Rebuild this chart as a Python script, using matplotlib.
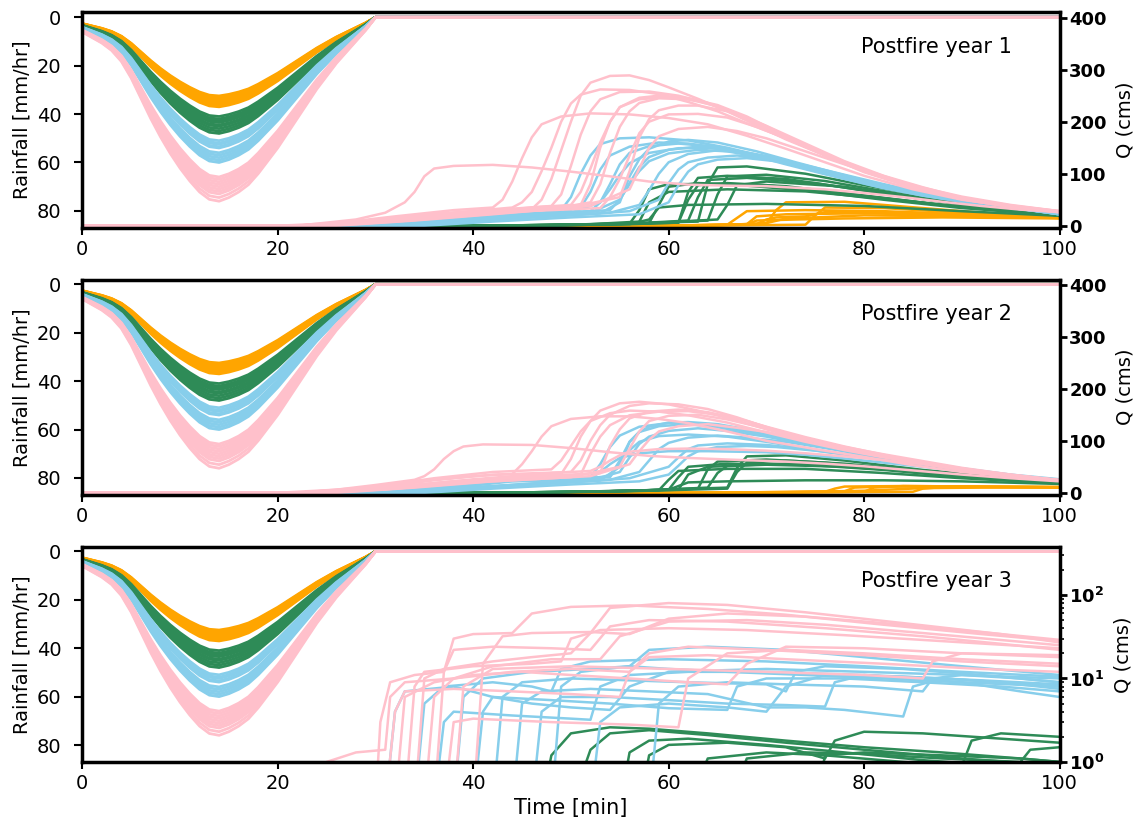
import matplotlib
matplotlib.use('Agg')
import matplotlib.pyplot as plt
import numpy as np

# scenario colours, drawn in this order (pink on top)
colors = ['orange', 'seagreen', 'skyblue', 'pink']
years = ['Postfire year 1', 'Postfire year 2', 'Postfire year 3']

# design storm: normalised hyetograph (1-min steps) and peak intensity of each run
rain_t = list(range(31)) + [100]
rain_shape = [0.08, 0.11, 0.14, 0.18, 0.24, 0.33, 0.44, 0.55, 0.65, 0.74,
              0.82, 0.89, 0.95, 0.99, 1.0, 0.98, 0.95, 0.91, 0.85, 0.78,
              0.71, 0.63, 0.55, 0.47, 0.39, 0.32, 0.25, 0.19, 0.13, 0.07,
              0.0, 0.0]
peaks_orange = [32.5, 33, 33.5, 34, 34.5, 35, 35.5, 36, 36.5, 37]
peaks_green = [41, 42, 42.5, 43, 43.5, 44.5, 45, 46, 47, 48]
peaks_blue = [51, 52, 52.5, 53.5, 54, 56, 57, 58, 59, 60]
peaks_pink = [66, 67, 68, 69, 70, 71, 72, 73, 74.5, 76]

# ---- hydrographs, year 1 (t [min], Q [cms])
q1_pink = [
    [(0, 0), (20, 0), (26, 5), (32, 18), (38, 30), (42, 35), (43, 50), (44, 85), (45, 130), (46, 170), (47, 195), (49, 210), (52, 216), (56, 214), (60, 207), (64, 195), (68, 173), (72, 148), (76, 122), (80, 96), (85, 70), (90, 50), (95, 37), (100, 27)],
    [(0, 0), (22, 0), (28, 8), (34, 20), (40, 28), (46, 32), (47, 50), (48, 90), (49, 145), (50, 200), (51, 250), (52, 275), (54, 288), (56, 289), (58, 280), (60, 266), (63, 244), (66, 220), (69, 193), (72, 166), (76, 135), (80, 106), (85, 76), (90, 53), (95, 38), (100, 28)],
    [(0, 0), (22, 0), (30, 10), (36, 22), (42, 30), (48, 38), (49, 60), (50, 115), (51, 175), (52, 220), (53, 243), (55, 257), (58, 258), (61, 250), (64, 236), (68, 206), (72, 172), (76, 138), (80, 106), (85, 76), (90, 52), (95, 37), (100, 27)],
    [(0, 0), (24, 0), (30, 8), (36, 18), (44, 28), (51, 40), (52, 80), (53, 150), (54, 200), (55, 228), (57, 246), (59, 250), (62, 245), (65, 232), (68, 210), (71, 182), (74, 153), (77, 127), (80, 104), (85, 74), (90, 51), (95, 36), (100, 26)],
    [(0, 0), (24, 0), (32, 10), (40, 22), (48, 32), (52, 45), (53, 80), (54, 140), (55, 190), (56, 220), (57, 236), (59, 245), (62, 243), (65, 230), (68, 207), (72, 172), (76, 138), (80, 106), (85, 75), (90, 52), (95, 37), (100, 27)],
    [(0, 0), (25, 0), (32, 8), (40, 20), (50, 35), (55, 55), (56, 105), (57, 170), (58, 205), (59, 222), (61, 231), (63, 231), (66, 220), (69, 197), (72, 171), (76, 138), (80, 108), (85, 77), (90, 54), (95, 39), (100, 28)],
    [(0, 0), (26, 0), (34, 10), (42, 22), (52, 38), (56, 70), (57, 110), (58, 150), (59, 172), (61, 186), (64, 190), (67, 182), (70, 168), (74, 143), (78, 118), (82, 94), (86, 73), (90, 56), (95, 40), (100, 28)],
    [(0, 0), (22, 0), (28, 12), (31, 25), (33, 45), (34, 65), (35, 95), (36, 110), (38, 115), (42, 117), (46, 112), (50, 104), (54, 95), (58, 85), (62, 79), (66, 77), (70, 76), (76, 70), (80, 63), (84, 55), (88, 46), (92, 38), (96, 31), (100, 26)],
    [(0, 0), (22, 0), (30, 10), (38, 25), (44, 35), (45, 45), (46, 65), (47, 105), (48, 150), (49, 200), (50, 235), (51, 252), (53, 262), (56, 261), (59, 253), (62, 238), (65, 220), (68, 197), (72, 168), (76, 135), (80, 103), (85, 73), (90, 51), (95, 36), (100, 26)],
    [(0, 0), (22, 0), (30, 9), (38, 22), (46, 35), (50, 40), (51, 65), (52, 110), (53, 160), (54, 200), (55, 228), (57, 243), (60, 248), (63, 240), (66, 223), (70, 192), (74, 158), (78, 124), (82, 96), (86, 74), (90, 54), (95, 38), (100, 27)],
    [(0, 0), (24, 0), (32, 10), (40, 24), (48, 30), (53, 34), (54, 55), (55, 90), (56, 135), (57, 178), (58, 200), (60, 214), (63, 215), (66, 208), (69, 190), (72, 168), (76, 137), (80, 107), (85, 76), (90, 52), (95, 37), (100, 27)],
]
q1_blue = [
    [(0, 0), (28, 0), (34, 6), (40, 18), (46, 22), (49, 30), (50, 55), (51, 100), (52, 135), (53, 157), (55, 168), (58, 170), (62, 164), (66, 150), (70, 132), (74, 110), (78, 90), (82, 72), (86, 58), (90, 46), (95, 34), (100, 24)],
    [(0, 0), (30, 0), (36, 8), (42, 18), (48, 22), (51, 35), (52, 65), (53, 108), (54, 135), (56, 152), (59, 160), (62, 158), (66, 148), (70, 130), (74, 110), (78, 91), (83, 70), (88, 53), (94, 37), (100, 23)],
    [(0, 0), (30, 0), (38, 10), (44, 20), (50, 25), (53, 45), (54, 80), (55, 118), (56, 140), (58, 153), (61, 158), (64, 153), (68, 138), (72, 118), (76, 99), (81, 77), (86, 58), (92, 41), (100, 23)],
    [(0, 0), (32, 0), (38, 8), (46, 18), (52, 25), (55, 50), (56, 82), (57, 113), (58, 132), (60, 146), (63, 152), (66, 147), (70, 132), (74, 112), (78, 93), (83, 71), (88, 53), (94, 37), (100, 22)],
    [(0, 0), (31, 0), (38, 12), (44, 24), (50, 26), (54, 30), (55, 50), (56, 80), (57, 105), (58, 124), (60, 139), (63, 146), (66, 143), (70, 130), (74, 112), (78, 94), (82, 77), (86, 60), (92, 42), (100, 23)],
    [(0, 0), (33, 0), (40, 10), (48, 18), (54, 25), (57, 40), (58, 68), (59, 100), (60, 122), (62, 138), (65, 145), (68, 140), (72, 124), (76, 104), (80, 86), (84, 69), (88, 55), (94, 38), (100, 22)],
    [(0, 0), (34, 0), (42, 12), (50, 20), (56, 28), (59, 50), (60, 82), (61, 108), (62, 122), (64, 131), (67, 135), (70, 130), (74, 116), (78, 98), (82, 80), (86, 64), (90, 50), (95, 36), (100, 22)],
    [(0, 0), (30, 0), (36, 10), (42, 22), (48, 24), (52, 28), (53, 45), (54, 70), (55, 98), (56, 120), (58, 140), (61, 149), (64, 150), (67, 144), (70, 134), (74, 114), (78, 94), (83, 72), (88, 54), (94, 38), (100, 23)],
    [(0, 0), (35, 0), (42, 8), (50, 16), (57, 22), (60, 45), (61, 78), (62, 104), (63, 118), (65, 127), (68, 130), (71, 124), (75, 108), (79, 90), (83, 72), (88, 55), (94, 38), (100, 22)],
    [(0, 0), (32, 0), (40, 10), (48, 20), (53, 24), (55, 45), (56, 95), (57, 128), (58, 148), (60, 162), (62, 165), (65, 160), (69, 143), (73, 122), (77, 102), (81, 82), (86, 63), (90, 49), (95, 35), (100, 23)],
]
q1_green = [
    [(0, 0), (40, 0), (50, 2), (56, 4), (57, 30), (58, 70), (60, 80), (66, 80), (74, 68), (82, 50), (90, 34), (100, 20)],
    [(0, 0), (42, 0), (52, 3), (58, 5), (59, 40), (60, 75), (63, 82), (70, 78), (78, 62), (88, 40), (100, 20)],
    [(0, 0), (42, 0), (54, 3), (61, 6), (62, 50), (63, 78), (66, 82), (72, 76), (80, 58), (90, 36), (100, 20)],
    [(0, 0), (44, 0), (55, 4), (63, 8), (64, 80), (65, 112), (68, 114), (74, 100), (80, 78), (90, 44), (100, 21)],
    [(0, 0), (44, 0), (56, 3), (58, 12), (59, 35), (62, 40), (70, 42), (80, 38), (90, 28), (100, 19)],
    [(0, 0), (45, 0), (56, 4), (62, 10), (63, 55), (64, 88), (68, 92), (75, 82), (84, 56), (92, 38), (100, 20)],
    [(0, 0), (46, 0), (58, 5), (64, 10), (65, 60), (66, 95), (70, 98), (76, 86), (84, 60), (92, 38), (100, 20)],
    [(0, 0), (42, 0), (52, 3), (57, 8), (58, 45), (60, 65), (66, 70), (74, 66), (82, 52), (90, 36), (100, 20)],
    [(0, 0), (48, 0), (58, 5), (65, 12), (66, 40), (67, 78), (70, 85), (78, 75), (86, 52), (94, 32), (100, 21)],
    [(0, 0), (44, 0), (56, 3), (61, 6), (62, 65), (63, 92), (66, 96), (72, 90), (80, 68), (90, 40), (100, 20)],
]
q1_orange = [
    [(0, 0), (58, 0), (66, 2), (67, 15), (68, 28), (74, 30), (82, 28), (90, 22), (100, 16)],
    [(0, 0), (60, 0), (68, 3), (69, 18), (72, 22), (80, 24), (90, 20), (100, 15)],
    [(0, 0), (62, 0), (70, 4), (71, 30), (72, 45), (78, 46), (86, 34), (94, 22), (100, 17)],
    [(0, 0), (62, 0), (74, 2), (75, 20), (76, 35), (82, 34), (90, 25), (100, 17)],
    [(0, 0), (60, 0), (69, 3), (70, 12), (71, 16), (74, 18), (76, 26), (84, 26), (92, 20), (100, 15)],
    [(0, 0), (64, 0), (70, 5), (72, 14), (75, 16), (80, 20), (90, 18), (100, 15)],
    [(0, 0), (60, 0), (68, 2), (69, 10), (73, 12), (78, 14), (88, 16), (100, 14)],
]

# ---- hydrographs, year 2
q2_pink = [
    [(0, 0), (20, 0), (26, 6), (30, 15), (34, 25), (35, 32), (36, 45), (37, 65), (38, 80), (39, 89), (41, 93), (46, 92), (50, 86), (54, 78), (58, 71), (62, 67), (66, 64), (72, 60), (76, 56), (80, 51), (85, 43), (90, 35), (95, 28), (100, 22)],
    [(0, 0), (22, 0), (28, 8), (34, 22), (40, 32), (44, 36), (45, 55), (46, 80), (47, 108), (48, 128), (50, 142), (53, 147), (56, 147), (59, 142), (62, 134), (66, 118), (70, 100), (75, 84), (80, 69), (85, 53), (90, 40), (95, 31), (100, 24)],
    [(0, 0), (22, 0), (30, 10), (36, 24), (42, 35), (50, 40), (51, 62), (52, 100), (53, 130), (54, 150), (56, 167), (58, 172), (61, 170), (64, 161), (67, 145), (70, 126), (74, 104), (78, 86), (82, 71), (86, 57), (90, 44), (95, 33), (100, 24)],
    [(0, 0), (24, 0), (30, 8), (38, 22), (46, 30), (51, 35), (52, 75), (53, 108), (54, 130), (56, 149), (59, 156), (62, 157), (65, 150), (68, 138), (72, 115), (76, 96), (80, 78), (84, 63), (88, 50), (92, 39), (96, 30), (100, 23)],
    [(0, 0), (24, 0), (32, 10), (40, 24), (48, 33), (53, 38), (54, 90), (55, 122), (56, 143), (58, 156), (61, 160), (64, 155), (67, 143), (70, 127), (74, 107), (78, 89), (82, 73), (86, 58), (90, 45), (95, 33), (100, 23)],
    [(0, 0), (25, 0), (32, 8), (40, 20), (50, 30), (55, 50), (56, 85), (57, 118), (58, 138), (60, 148), (63, 150), (66, 141), (69, 128), (72, 114), (76, 96), (80, 79), (84, 63), (88, 50), (92, 39), (96, 30), (100, 24)],
    [(0, 0), (26, 0), (34, 10), (42, 22), (52, 32), (56, 55), (57, 80), (58, 102), (59, 118), (61, 128), (64, 132), (67, 125), (70, 117), (74, 102), (78, 88), (82, 74), (86, 61), (90, 48), (95, 35), (100, 24)],
    [(0, 0), (22, 0), (30, 12), (36, 28), (42, 40), (48, 45), (49, 62), (50, 90), (51, 118), (52, 138), (54, 153), (56, 158), (59, 156), (62, 149), (66, 135), (70, 116), (74, 98), (78, 82), (82, 68), (87, 53), (92, 39), (96, 30), (100, 23)],
    [(0, 0), (24, 0), (32, 10), (40, 26), (48, 38), (52, 42), (53, 50), (54, 62), (55, 72), (56, 79), (59, 84), (62, 85), (66, 84), (70, 81), (74, 76), (78, 70), (82, 63), (86, 55), (90, 46), (95, 35), (100, 24)],
    [(0, 0), (23, 0), (30, 9), (38, 22), (46, 32), (49, 36), (50, 65), (51, 108), (52, 138), (53, 158), (55, 172), (57, 175), (60, 170), (63, 158), (66, 144), (70, 122), (74, 102), (78, 85), (82, 70), (86, 56), (90, 44), (95, 34), (100, 25)],
]
q2_blue = [
    [(0, 0), (30, 0), (36, 8), (42, 22), (48, 26), (52, 30), (53, 55), (54, 88), (55, 110), (57, 127), (60, 134), (63, 133), (66, 127), (70, 113), (74, 97), (78, 82), (82, 68), (86, 55), (90, 43), (95, 33), (100, 25)],
    [(0, 0), (30, 0), (38, 10), (44, 22), (50, 25), (54, 32), (55, 62), (56, 98), (57, 117), (59, 128), (62, 132), (65, 126), (68, 117), (72, 102), (76, 88), (80, 73), (85, 57), (90, 44), (95, 33), (100, 24)],
    [(0, 0), (32, 0), (38, 8), (46, 18), (52, 24), (55, 40), (56, 68), (57, 94), (58, 108), (60, 119), (63, 124), (66, 119), (70, 108), (74, 94), (78, 80), (83, 64), (88, 49), (94, 35), (100, 24)],
    [(0, 0), (31, 0), (38, 12), (44, 24), (50, 27), (54, 30), (55, 58), (56, 82), (57, 98), (59, 109), (62, 112), (66, 108), (70, 98), (74, 86), (78, 74), (84, 57), (90, 43), (95, 32), (100, 24)],
    [(0, 0), (33, 0), (40, 10), (48, 18), (54, 25), (57, 40), (58, 62), (59, 84), (60, 96), (62, 106), (65, 110), (68, 106), (72, 98), (76, 86), (80, 74), (85, 58), (90, 45), (95, 33), (100, 23)],
    [(0, 0), (34, 0), (42, 12), (50, 20), (56, 28), (60, 50), (61, 68), (62, 84), (63, 91), (66, 95), (70, 92), (74, 84), (78, 74), (83, 60), (88, 47), (94, 34), (100, 24)],
    [(0, 0), (30, 0), (36, 10), (42, 22), (48, 24), (52, 28), (53, 40), (54, 55), (55, 67), (57, 76), (60, 80), (64, 80), (70, 78), (74, 73), (78, 66), (83, 56), (88, 46), (94, 34), (100, 24)],
    [(0, 0), (32, 0), (40, 10), (48, 20), (53, 24), (55, 50), (56, 98), (57, 117), (58, 127), (60, 135), (62, 136), (65, 132), (68, 122), (72, 107), (76, 92), (80, 78), (85, 61), (90, 47), (95, 35), (100, 26)],
    [(0, 0), (35, 0), (42, 8), (50, 16), (57, 22), (60, 35), (61, 52), (62, 70), (63, 80), (65, 88), (68, 90), (71, 88), (75, 81), (79, 72), (84, 59), (89, 46), (94, 35), (100, 24)],
]
q2_green = [
    [(0, 0), (40, 0), (52, 2), (59, 5), (60, 25), (61, 42), (66, 46), (74, 46), (82, 38), (90, 28), (100, 18)],
    [(0, 0), (42, 0), (54, 3), (60, 6), (61, 30), (62, 50), (66, 56), (74, 54), (82, 44), (90, 30), (100, 18)],
    [(0, 0), (44, 0), (56, 4), (63, 8), (64, 45), (65, 60), (70, 64), (76, 58), (84, 44), (92, 30), (100, 19)],
    [(0, 0), (44, 0), (56, 3), (66, 8), (67, 40), (68, 58), (72, 62), (78, 56), (86, 42), (94, 28), (100, 19)],
    [(0, 0), (42, 0), (54, 3), (60, 6), (62, 20), (66, 22), (74, 24), (82, 24), (90, 22), (100, 17)],
    [(0, 0), (45, 0), (57, 4), (64, 10), (65, 38), (66, 52), (72, 56), (80, 50), (88, 38), (100, 19)],
    [(0, 0), (46, 0), (58, 5), (66, 10), (67, 48), (68, 70), (72, 72), (78, 62), (86, 44), (94, 30), (100, 19)],
    [(0, 0), (42, 0), (54, 3), (61, 6), (62, 35), (64, 50), (70, 54), (78, 50), (86, 40), (94, 28), (100, 18)],
]
q2_orange = [
    [(0, 0), (62, 0), (76, 2), (77, 8), (78, 12), (84, 13), (92, 12), (100, 11)],
    [(0, 0), (64, 0), (78, 3), (79, 10), (82, 12), (90, 12), (100, 11)],
    [(0, 0), (66, 0), (85, 2), (86, 8), (88, 11), (94, 11), (100, 10)],
    [(0, 0), (62, 0), (72, 1), (80, 4), (86, 9), (92, 10), (100, 10)],
    [(0, 0), (66, 0), (80, 2), (81, 10), (84, 13), (92, 12), (100, 11)],
]

# ---- hydrographs, year 3 (log axis, values below 1 fall off the plot)
q3_pink = [
    [(0, 0.3), (23, 0.3), (25, 1.0), (28, 1.3), (31, 1.4), (31.5, 6), (33, 9), (38, 10), (44, 12), (50, 13), (56, 12), (58, 20), (62, 24), (70, 22), (80, 19), (90, 16), (100, 14)],
    [(0, 0.3), (30, 0.3), (30.5, 3), (31.5, 9), (34, 11), (37, 12), (38, 22), (42, 24), (48, 23), (52, 22), (54, 42), (58, 50), (66, 48), (76, 40), (86, 32), (94, 26), (100, 22)],
    [(0, 0.3), (31, 0.3), (32, 4), (33, 7), (38, 7.5), (44, 7), (50, 6.5), (55, 6), (56, 12), (58, 18), (64, 19), (72, 17), (82, 15), (92, 13), (100, 12)],
    [(0, 0.3), (33, 0.3), (34, 8), (35, 12), (40, 14), (46, 15), (49, 16), (50, 30), (53, 38), (60, 40), (68, 38), (78, 33), (88, 28), (100, 23)],
    [(0, 0.3), (36, 0.3), (37, 12), (38, 30), (40, 34), (44, 35), (46, 60), (50, 72), (56, 75), (64, 68), (72, 58), (82, 44), (92, 34), (100, 28)],
    [(0, 0.3), (34, 0.3), (35, 10), (37, 13), (42, 16), (46, 18), (50, 20), (52, 35), (54, 70), (60, 80), (66, 76), (74, 62), (84, 46), (94, 34), (100, 27)],
    [(0, 0.3), (37, 0.3), (38, 3), (40, 3.3), (48, 3), (56, 2.8), (61, 2.6), (62, 10), (66, 20), (72, 22), (80, 20), (90, 17), (100, 15)],
    [(0, 0.3), (35, 0.3), (36, 6), (38, 10), (42, 14), (48, 17), (53, 17), (55, 32), (60, 48), (68, 50), (76, 44), (86, 35), (100, 25)],
    [(0, 0.3), (32, 0.3), (33, 6), (36, 9), (40, 11), (45, 12), (50, 11), (56, 10), (62, 9), (66, 8.5), (68, 15), (72, 24), (80, 23), (90, 20), (100, 18)],
    [(0, 0.3), (40, 0.3), (41, 15), (43, 32), (46, 35), (52, 36), (56, 34), (60, 52), (66, 60), (74, 55), (84, 44), (94, 34), (100, 29)],
    [(0, 0.3), (38, 0.3), (39, 8), (42, 13), (50, 14), (60, 13), (70, 12), (80, 11), (86, 10), (87, 16), (90, 20), (100, 19)],
]
q3_blue = [
    [(0, 0.3), (31, 0.3), (32, 4), (33, 7), (38, 8), (42, 6), (46, 5), (50, 4.5), (54, 4.2), (56, 8), (60, 12), (70, 13), (80, 12), (90, 11), (100, 10)],
    [(0, 0.3), (34, 0.3), (35, 5), (37, 8), (42, 9), (46, 8), (48, 7), (49, 13), (52, 16), (60, 17), (70, 16), (80, 14), (90, 12), (100, 10.5)],
    [(0, 0.3), (36, 0.3), (37, 3), (38, 4), (44, 3.6), (50, 3.3), (52, 3.2), (53, 8), (56, 11), (62, 12), (70, 12), (80, 11), (90, 9), (100, 8)],
    [(0, 0.3), (38, 0.3), (39, 6), (41, 10), (46, 12), (52, 13), (56, 14), (58, 22), (64, 24), (72, 22), (80, 18), (90, 14), (100, 11)],
    [(0, 0.3), (40, 0.3), (41, 4), (42, 6), (48, 5.5), (54, 5), (60, 4.4), (66, 4.2), (67, 8), (70, 10), (78, 10), (86, 9), (94, 8), (100, 7)],
    [(0, 0.3), (42, 0.3), (43, 6), (45, 9), (50, 10), (56, 9.5), (62, 9), (70, 8.5), (72, 7), (73, 12), (76, 14), (84, 13), (92, 11), (100, 9)],
    [(0, 0.3), (44, 0.3), (45, 5), (47, 7), (52, 7.5), (58, 7), (64, 6.5), (70, 4.5), (74, 4.5), (78, 4.2), (84, 3.5), (85, 8), (88, 10), (94, 9), (100, 7.5)],
    [(0, 0.3), (46, 0.3), (47, 4), (49, 6), (54, 6), (60, 5.5), (66, 5), (72, 4.8), (76, 4.6), (77, 9), (80, 11), (88, 10), (94, 9), (100, 8)],
    [(0, 0.3), (48, 0.3), (49, 8), (51, 12), (56, 14), (60, 13), (66, 12), (74, 11), (82, 10), (90, 9), (96, 7), (100, 6)],
    [(0, 0.3), (52, 0.3), (53, 3), (55, 4.5), (60, 5), (66, 4.5), (70, 4), (72, 8), (76, 11), (84, 10.5), (92, 9.5), (100, 8.5)],
    [(0, 0.3), (58, 0.3), (59, 5), (61, 8), (66, 9), (72, 8.5), (80, 8), (86, 7), (87, 10), (90, 11), (96, 10), (100, 9)],
]
q3_green = [
    [(0, 0.3), (47, 0.3), (48, 1.2), (50, 2.2), (54, 2.6), (58, 2.5), (64, 2.2), (72, 1.8), (80, 1.5), (88, 1.3), (96, 1.1), (100, 1.0)],
    [(0, 0.3), (50, 0.3), (52, 1.4), (54, 2.2), (58, 2.4), (64, 2.1), (72, 1.7), (80, 1.4), (90, 1.1), (100, 0.9)],
    [(0, 0.3), (55, 0.3), (56, 1.3), (58, 1.8), (62, 1.9), (70, 1.6), (78, 1.3), (86, 1.05), (94, 0.9), (100, 0.8)],
    [(0, 0.3), (57, 0.3), (58, 1.2), (60, 1.6), (66, 1.7), (72, 1.5), (76, 1.1), (77, 1.8), (80, 2.3), (86, 2.2), (94, 1.9), (100, 1.7)],
    [(0, 0.3), (62, 0.3), (64, 1.1), (70, 1.3), (76, 1.2), (84, 1.0), (90, 0.9), (91, 1.8), (94, 2.2), (100, 2.0)],
    [(0, 0.3), (66, 0.3), (68, 1.1), (74, 1.3), (80, 1.25), (88, 1.1), (96, 1.0), (97, 1.4), (100, 1.5)],
    [(0, 0.3), (75, 0.3), (76, 1.2), (80, 1.3), (88, 1.2), (96, 1.1), (100, 1.0)],
]
q3_orange = [
    [(0, 0.2), (70, 0.2), (80, 0.6), (100, 0.5)],
]

rain_peaks = [peaks_orange, peaks_green, peaks_blue, peaks_pink]
hydro = [
    [q1_orange, q1_green, q1_blue, q1_pink],
    [q2_orange, q2_green, q2_blue, q2_pink],
    [q3_orange, q3_green, q3_blue, q3_pink],
]

plt.rcParams['font.family'] = ['DejaVu Sans']
fig, axes = plt.subplots(3, 1, figsize=(11.43, 8.3), dpi=100)
fig.subplots_adjust(left=0.072, right=0.927, top=0.985, bottom=0.082, hspace=0.24)

for i, ax in enumerate(axes):
    ax2 = ax.twinx()
    for c, peaks, curves in zip(colors, rain_peaks, hydro[i]):
        for p in peaks:
            ax.plot(rain_t, [s * p for s in rain_shape], color=c, lw=2)
        for cur in curves:
            t, q = zip(*cur)
            ax2.plot(t, q, color=c, lw=1.8)

    ax.set_xlim(0, 100)
    ax.set_ylim(87, -2)
    ax.set_yticks([0, 20, 40, 60, 80])
    ax.set_ylabel('Rainfall [mm/hr]', fontsize=14)
    ax.tick_params(axis='x', labelsize=14, width=1.5, length=5)
    ax.tick_params(axis='y', labelsize=14, width=1.5, length=6, pad=9)

    if i < 2:
        ax2.set_ylim(-4, 410)
        ax2.set_yticks([0, 100, 200, 300, 400])
    else:
        ax2.set_yscale('log')
        ax2.set_ylim(1, 380)
    ax2.set_ylabel('Q (cms)', fontsize=14, labelpad=6)
    ax2.tick_params(labelsize=13, width=2, length=5, pad=2)
    ax2.tick_params(which='minor', width=1.2, length=3)
    for lab in ax2.get_yticklabels():
        lab.set_fontweight('bold')

    for sp in ax2.spines.values():
        sp.set_linewidth(2.5)
    ax.text(0.874, 0.84, years[i], transform=ax.transAxes, ha='center', va='center', fontsize=15)

axes[-1].set_xlabel('Time [min]', fontsize=15)

plt.savefig('out.png', dpi=100)
